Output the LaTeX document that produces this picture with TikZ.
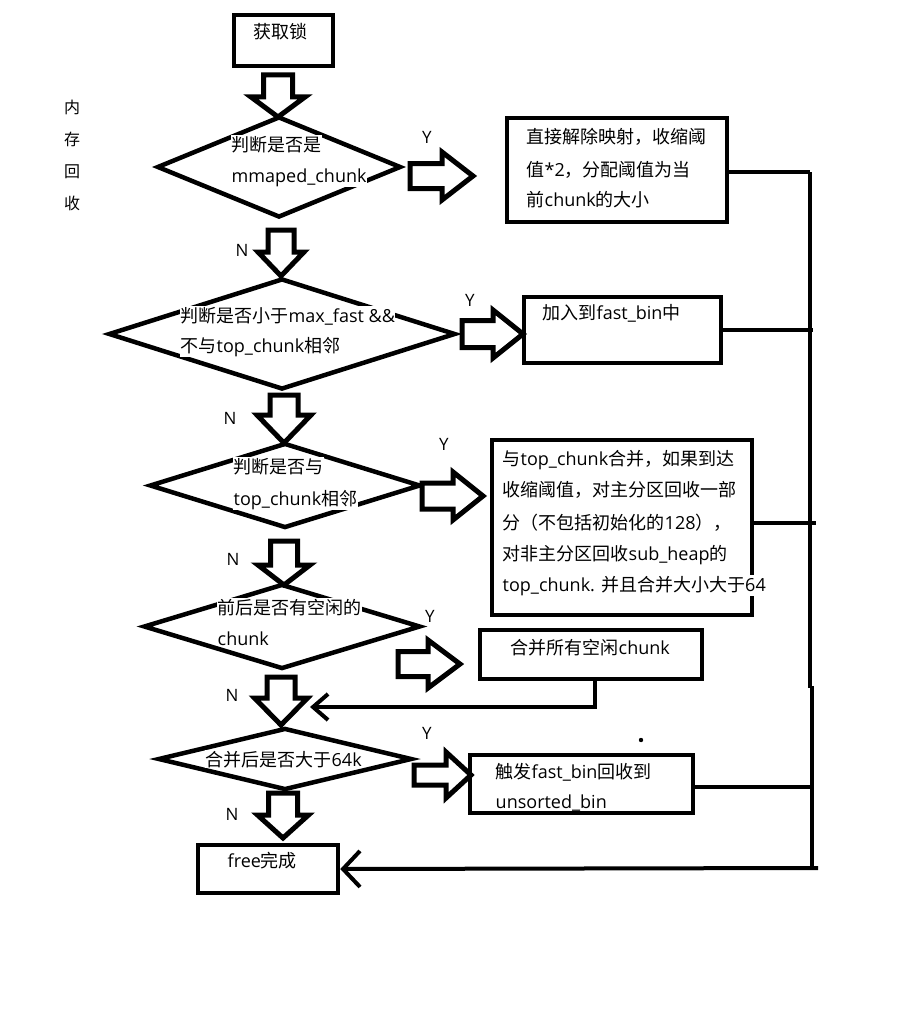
\documentclass[tikz,border=0pt]{standalone}
\usepackage{fontspec}
\setmainfont{Open Sans}
\newfontfamily\cjk{Noto Sans CJK SC}
\usetikzlibrary{shapes.geometric,arrows.meta}
% block arrows: down (cx, ytop, ybase, ytip, shaft half, head half)
\newcommand\blkdown[6]{\draw[blk] ({#1-#5},#2) -- ({#1+#5},#2) -- ({#1+#5},#3) -- ({#1+#6},#3) -- (#1,#4) -- ({#1-#6},#3) -- ({#1-#5},#3) -- cycle;}
% right (cy, xleft, xbase, xtip, shaft half, head half)
\newcommand\blkright[6]{\draw[blk] (#2,{#1-#5}) -- (#3,{#1-#5}) -- (#3,{#1-#6}) -- (#4,#1) -- (#3,{#1+#6}) -- (#3,{#1+#5}) -- (#2,{#1+#5}) -- cycle;}
\begin{document}
\begin{tikzpicture}[x=1pt,y=-1pt,
  box/.style={draw, line width=4.5pt, inner sep=0pt, rectangle},
  dia/.style={draw, line width=4.5pt, inner sep=0pt, diamond},
  blk/.style={draw, line width=5pt, fill=white, line join=miter},
  conn/.style={line width=4pt},
  txt/.style={inner sep=0.5pt, fill=white, anchor=base west, font=\fontsize{18}{22}\selectfont},
  yn/.style={inner sep=0pt, font=\fontsize{17}{20}\selectfont},
  barb/.style={-{Straight Barb[length=17pt,width=36pt]}}
]
\useasboundingbox (0,0) rectangle (903,1014);
\fill[white] (0,0) rectangle (903,1014);

% side label
\node[inner sep=0pt, align=center, font=\cjk\fontsize{16}{32}\selectfont] (side) at (72,155) {内\\存\\回\\收};

% boxes
\node[box, minimum width=99pt, minimum height=51pt] (lock) at (283.5,40.5) {};
\node[box, minimum width=220pt, minimum height=104pt] (b1) at (617,170) {};
\node[box, minimum width=197pt, minimum height=66pt] (b2) at (622.5,330) {};
\node[box, minimum width=260pt, minimum height=175pt] (b3) at (622,527.5) {};
\node[box, minimum width=222pt, minimum height=49pt] (b4) at (591,654.5) {};
\node[box, minimum width=223pt, minimum height=58pt] (b5) at (581.5,784) {};
\node[box, minimum width=140pt, minimum height=48pt] (free) at (268,869) {};

% diamonds
\node[dia, minimum width=244pt, minimum height=101pt] (d1) at (279,167) {};
\node[dia, minimum width=347pt, minimum height=111pt] (d2) at (282,334) {};
\node[dia, minimum width=271pt, minimum height=85pt] (d3) at (285,485.5) {};
\node[dia, minimum width=277pt, minimum height=85pt] (d4) at (282,626.5) {};
\node[dia, minimum width=254pt, minimum height=62pt] (d5) at (285,759) {};

% block arrows down
\blkdown{278}{75}{97}{117}{14.5}{27}
\blkdown{281}{230}{252}{276}{13}{23}
\blkdown{284}{395}{415}{443}{14}{27}
\blkdown{284}{541}{565}{585}{13.5}{26}
\blkdown{281}{677}{698}{725}{14}{26.5}
\blkdown{283}{793}{815}{838}{14.5}{25.5}
% block arrows right
\blkright{176}{410}{442}{473}{12.5}{24}
\blkright{334}{462}{493}{523}{13.5}{24}
\blkright{496}{422}{453}{483}{13}{24}
\blkright{664}{398}{428}{460}{12.5}{24}
\blkright{775}{414}{446}{471}{10}{23}

% bus on the right
\coordinate (busx) at (810,0);
\coordinate (bustop) at (810,172);
\coordinate (busmid) at (810,688);
\coordinate (busmid2) at (812,686);
\coordinate (busbot) at (812,868);
\coordinate (busend) at (818,868);
\draw[conn] (bustop) -- (busmid);
\draw[conn] (busmid2) -- (busbot);
\draw[conn] ([yshift=-2pt]b1.east) -- ([yshift=-2pt]b1.east -| busx);
\draw[conn] (b2.east) -- ++(90,0);
\draw[conn] ([yshift=4.5pt]b3.east) -- ++(62,0);
\draw[conn] ([yshift=-3pt]b5.east) -- ++(119,0);
\draw[conn, barb] (busend) -- (free.east);

% merge arrow back into main flow
\coordinate (mergeend) at (310,707);
\draw[conn, -{Straight Barb[length=15pt,width=26pt]}] ([xshift=4pt]b4.south) |- (mergeend);

% stray dot
\fill (641,740) circle (2.2pt);

% labels Y / N
\node[yn] (y1) at (427,137) {Y};
\node[yn] (y2) at (470,300) {Y};
\node[yn] (y3) at (444,444) {Y};
\node[yn] (y4) at (430,616) {Y};
\node[yn] (y5) at (427,733) {Y};
\node[yn] (n1) at (242,250) {N};
\node[yn] (n2) at (230,418) {N};
\node[yn] (n3) at (233,559) {N};
\node[yn] (n4) at (232,695) {N};
\node[yn] (n5) at (232,814) {N};

% texts
\node[txt] (lockt) at (253,39) {\cjk 获取锁};
\node[txt] (d1a) at (231,151) {\cjk 判断是否是};
\node[txt] (d1b) at (231,182) {mmaped\_chunk};
\node[txt] (b1a) at (526,143) {\cjk 直接解除映射，收缩阈};
\node[txt] (b1b) at (526,176) {{\cjk 值}*2{\cjk ，分配阈值为当}};
\node[txt] (b1c) at (526,206) {{\cjk 前}chunk{\cjk 的大小}};
\node[txt] (d2a) at (180,322) {{\cjk 判断是否小于}max\_fast \&\&};
\node[txt] (d2b) at (180,352) {{\cjk 不与}top\_chunk{\cjk 相邻}};
\node[txt] (b2a) at (542,319) {{\cjk 加入到}fast\_bin{\cjk 中}};
\node[txt] (d3a) at (233,473) {\cjk 判断是否与};
\node[txt] (d3b) at (233,505) {top\_chunk{\cjk 相邻}};
\node[txt] (b3a) at (502,465) {{\cjk 与}top\_chunk{\cjk 合并，如果到达}};
\node[txt] (b3b) at (502,496) {\cjk 收缩阈值，对主分区回收一部};
\node[txt] (b3c) at (502,529) {{\cjk 分（不包括初始化的}128{\cjk ），}};
\node[txt] (b3d) at (502,560) {{\cjk 对非主分区回收}sub\_heap{\cjk 的}};
\node[txt] (b3e) at (502,591) {top\_chunk. {\cjk 并且合并大小大于}64};
\node[txt] (d4a) at (217,614) {\cjk 前后是否有空闲的};
\node[txt] (d4b) at (217,645) {chunk};
\node[txt] (b4a) at (510,654) {{\cjk 合并所有空闲}chunk};
\node[txt] (d5a) at (205,766) {{\cjk 合并后是否大于}64k};
\node[txt] (b5a) at (495,778) {{\cjk 触发}fast\_bin{\cjk 回收到}};
\node[txt] (b5b) at (495,808) {unsorted\_bin};
\node[txt] (freet) at (227,867) {free{\cjk 完成}};
\end{tikzpicture}
\end{document}
